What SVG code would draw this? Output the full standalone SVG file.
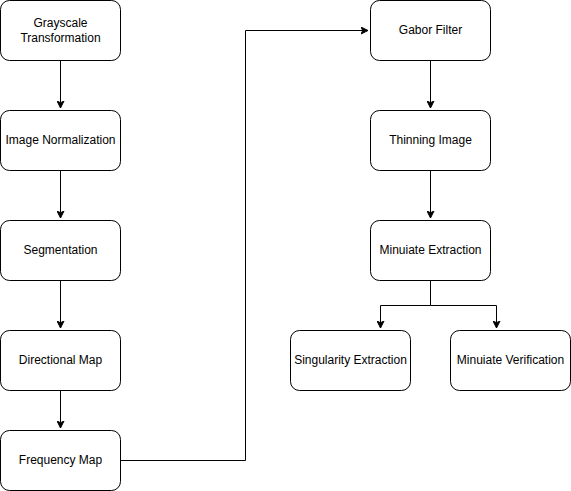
<svg xmlns="http://www.w3.org/2000/svg" width="571" height="491" viewBox="0 0 571 491">
<style>
.box{fill:#fff;stroke:#000;stroke-width:1}
.t{font-family:"Liberation Sans",Arial,sans-serif;font-size:12px;fill:#000;text-anchor:middle;dominant-baseline:central}
.c{fill:none;stroke:#000;stroke-width:1}
</style>
<defs>
<marker id="a" markerWidth="8" markerHeight="8" viewBox="0 0 8 8" refX="7" refY="4" orient="auto" markerUnits="userSpaceOnUse">
<path d="M0,0.5 L7,4 L0,7.5 L1.75,4 Z" fill="#000" stroke="#000" stroke-width="1"/>
</marker>
</defs>
<rect width="571" height="491" fill="#fff"/>
<g id="connectors">
<path class="c" d="M60.5,60.5 V108" marker-end="url(#a)"/>
<path class="c" d="M60.5,170.5 V218" marker-end="url(#a)"/>
<path class="c" d="M60.5,280.5 V328" marker-end="url(#a)"/>
<path class="c" d="M60.5,390.5 V428" marker-end="url(#a)"/>
<path class="c" d="M120.5,460.5 H245.5 V30.5 H368" marker-end="url(#a)"/>
<path class="c" d="M430.5,60.5 V108" marker-end="url(#a)"/>
<path class="c" d="M430.5,170.5 V218" marker-end="url(#a)"/>
<path class="c" d="M430.5,280.5 V305.5 H380.5 V328" marker-end="url(#a)"/>
<path class="c" d="M430.5,305.5 H496.5 V328" marker-end="url(#a)"/>
</g>
<g id="n1"><rect class="box" x="0.5" y="0.5" width="120" height="60" rx="9"/><text class="t" x="60.5" y="22.5">Grayscale</text><text class="t" x="60.5" y="37.5">Transformation</text></g>
<g id="n2"><rect class="box" x="0.5" y="110.5" width="120" height="60" rx="9"/><text class="t" x="60.5" y="139.5">Image Normalization</text></g>
<g id="n3"><rect class="box" x="0.5" y="220.5" width="120" height="60" rx="9"/><text class="t" x="60.5" y="249.5">Segmentation</text></g>
<g id="n4"><rect class="box" x="0.5" y="330.5" width="120" height="60" rx="9"/><text class="t" x="60.5" y="359.5">Directional Map</text></g>
<g id="n5"><rect class="box" x="0.5" y="430.5" width="120" height="60" rx="9"/><text class="t" x="60.5" y="459.5">Frequency Map</text></g>
<g id="n6"><rect class="box" x="370.5" y="0.5" width="120" height="60" rx="9"/><text class="t" x="430.5" y="29.5">Gabor Filter</text></g>
<g id="n7"><rect class="box" x="370.5" y="110.5" width="120" height="60" rx="9"/><text class="t" x="430.5" y="139.5">Thinning Image</text></g>
<g id="n8"><rect class="box" x="370.5" y="220.5" width="120" height="60" rx="9"/><text class="t" x="430.5" y="249.5">Minuiate Extraction</text></g>
<g id="n9"><rect class="box" x="290.5" y="330.5" width="120" height="60" rx="9"/><text class="t" x="350.5" y="359.5">Singularity Extraction</text></g>
<g id="n10"><rect class="box" x="450.5" y="330.5" width="120" height="60" rx="9"/><text class="t" x="510.5" y="359.5">Minuiate Verification</text></g>
</svg>
